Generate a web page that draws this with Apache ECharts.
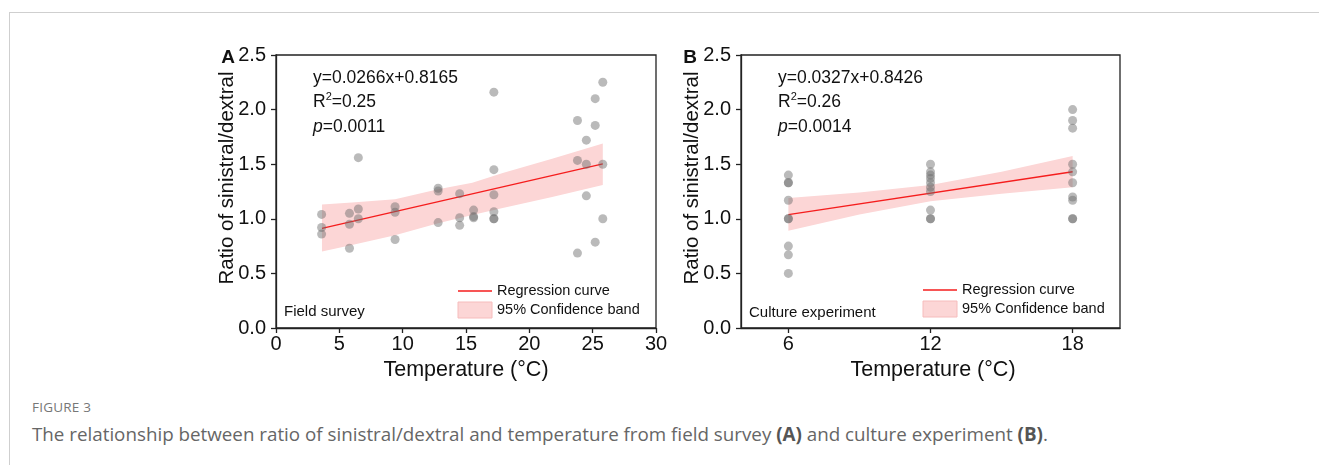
<!DOCTYPE html>
<html>
<head>
<meta charset="utf-8">
<script src="https://cdn.jsdelivr.net/npm/echarts@6/dist/echarts.min.js"></script>
<style>
  html, body { margin: 0; padding: 0; background: #fff; }
  #wrap { position: relative; width: 1319px; height: 465px; overflow: hidden; }
  #frame { position: absolute; left: 9px; top: 12px; right: 0; bottom: -2px;
           border-top: 1px solid #cfcfcf; border-left: 1px solid #cfcfcf; }
  #chart { position: absolute; left: 0; top: 0; width: 1319px; height: 390px; }
  .fig { position: absolute; left: 32px; top: 398px; font: 13.5px "Open Sans", sans-serif; color: #777; letter-spacing: 0.2px; }
  .cap { position: absolute; left: 32px; top: 421px; font: 18.8px "Open Sans", sans-serif; color: #666; white-space: nowrap; }
  .cap b { color: #555; }
</style>
</head>
<body>
<div id="wrap">
  <div id="frame"></div>
  <div id="chart"></div>
  <div class="fig">FIGURE 3</div>
  <div class="cap">The relationship between ratio of sinistral/dextral and temperature from field survey <b>(A)</b> and culture experiment <b>(B)</b>.</div>
</div>
<script>
// field survey (A)
const tempA = [3.6, 3.6, 3.6, 5.8, 5.8, 5.8, 6.5, 6.5, 6.5, 9.4, 9.4, 9.4,
  12.8, 12.8, 12.8, 14.5, 14.5, 14.5, 15.6, 15.6, 15.6,
  17.2, 17.2, 17.2, 17.2, 17.2, 17.2, 23.8, 23.8, 23.8, 24.5, 24.5, 24.5,
  25.2, 25.2, 25.2, 25.8, 25.8, 25.8]
const ratioA = [1.04, 0.92, 0.86, 1.05, 0.95, 0.73, 1.56, 1.09, 1.0, 1.11, 1.06, 0.81,
  1.28, 1.255, 0.965, 1.23, 1.01, 0.94, 1.08, 1.01, 1.02,
  2.16, 1.45, 1.22, 1.065, 1.0, 1.0, 1.9, 1.535, 0.686, 1.72, 1.5, 1.21,
  2.1, 1.855, 0.786, 2.25, 1.5, 1.0]
const fitA_x = [3.63, 25.8]
const fitA_y = [0.913, 1.503]
const bandA_x = [3.63, 6, 9.4, 12.8, 15.5, 17.9, 21.8, 25.8]
const bandA_hi = [1.13, 1.15, 1.18, 1.27, 1.33, 1.42, 1.55, 1.69]
const bandA_lo = [0.70, 0.76, 0.85, 0.96, 1.035, 1.10, 1.20, 1.31]

// culture experiment (B)
const tempB = [6, 6, 6, 6, 6, 6, 6, 6, 6,
  12, 12, 12, 12, 12, 12, 12, 12, 12, 12,
  18, 18, 18, 18, 18, 18, 18, 18, 18, 18]
const ratioB = [1.4, 1.33, 1.33, 1.17, 1.0, 1.0, 0.75, 0.67, 0.5,
  1.5, 1.43, 1.4, 1.37, 1.33, 1.29, 1.25, 1.08, 1.0, 1.0,
  2.0, 1.9, 1.83, 1.5, 1.43, 1.33, 1.2, 1.17, 1.0, 1.0]
const fitB_x = [6, 18]
const fitB_y = [1.039, 1.431]
const bandB_x = [6, 9, 12, 15, 18]
const bandB_hi = [1.19, 1.24, 1.31, 1.43, 1.575]
const bandB_lo = [0.89, 1.04, 1.16, 1.23, 1.29]

const yTicks = [0, 0.5, 1.0, 1.5, 2.0, 2.5]
const xTicksB = [6, 12, 18]

const FONT = '"Liberation Sans", Arial, sans-serif'
const AXIS = '#222'
const PINK = '#fcd6d6'
const RED = '#f51d1d'
const DOT = 'rgba(105,105,105,0.58)'

const chart = echarts.init(document.getElementById('chart'), null, { renderer: 'canvas' })

function bandSeries(idx, xs, hi, lo) {
  const pts = xs.map((x, i) => [x, hi[i], lo[i]])
  return {
    type: 'custom', xAxisIndex: idx, yAxisIndex: idx, silent: true, z: 1,
    data: pts,
    renderItem: (params, api) => {
      if (params.dataIndex !== 0) return null
      const top = pts.map(p => api.coord([p[0], p[1]]))
      const bot = pts.map(p => api.coord([p[0], p[2]])).reverse()
      return { type: 'polygon', shape: { points: top.concat(bot) }, style: { fill: PINK } }
    },
    encode: { x: 0, y: [1, 2] },
  }
}

function lineSeries(idx, xs, ys) {
  return {
    type: 'line', xAxisIndex: idx, yAxisIndex: idx, z: 3, silent: true,
    showSymbol: false, data: xs.map((x, i) => [x, ys[i]]),
    lineStyle: { color: RED, width: 1.3 },
  }
}

function dotSeries(idx, xs, ys) {
  return {
    type: 'scatter', xAxisIndex: idx, yAxisIndex: idx, z: 4,
    symbolSize: 9, data: xs.map((x, i) => [x, ys[i]]),
    itemStyle: { color: DOT },
  }
}

const yAxisBase = {
  type: 'value', min: 0, max: 2.5, interval: 0.5,
  axisLine: { show: true, lineStyle: { color: AXIS, width: 1.3 } },
  axisTick: { show: true, length: 5, lineStyle: { color: AXIS, width: 1.3 } },
  axisLabel: { color: '#111', fontSize: 20, fontFamily: FONT, margin: 10, formatter: v => v.toFixed(1) },
  splitLine: { show: false },
}
const xLabel = { color: '#111', fontSize: 20, fontFamily: FONT, margin: 6 }

const txt = (x, y, text, size, extra) => ({
  type: 'text', x, y, silent: true,
  style: Object.assign({ text, fontSize: size, fontFamily: FONT, fill: '#111', verticalAlign: 'middle' }, extra || {}),
})

function statsText(x, eq, r2, p) {
  return [
    txt(x, 78, eq, 17.5),
    txt(x, 102, '{n|R}{s|2}{n|=' + r2 + '}', 17.5, {
      rich: { n: { fontSize: 17.5, fontFamily: FONT }, s: { fontSize: 11, fontFamily: FONT, padding: [0, 0, 10, 0] } },
    }),
    txt(x, 127, '{i|p}{n|=' + p + '}', 17.5, {
      rich: { n: { fontSize: 17.5, fontFamily: FONT }, i: { fontSize: 17.5, fontFamily: FONT, fontStyle: 'italic' } },
    }),
  ]
}

function legendBox(x, y) {
  return [
    { type: 'line', silent: true, shape: { x1: x, y1: y, x2: x + 34, y2: y }, style: { stroke: RED, lineWidth: 1.3 } },
    txt(x + 39, y, 'Regression curve', 14.5),
    { type: 'rect', silent: true, shape: { x: x, y: y + 11, width: 34, height: 16 }, style: { fill: PINK, stroke: '#f6bcbc', lineWidth: 1 } },
    txt(x + 39, y + 19, '95% Confidence band', 14.5),
  ]
}

const yTitle = (x) => ({
  type: 'text', x, y: 178, rotation: Math.PI / 2, silent: true,
  style: { text: 'Ratio of sinistral/dextral', fontSize: 20.5, fontFamily: FONT, fill: '#111', align: 'center', verticalAlign: 'middle' },
})

const graphics = [
  txt(228, 58, 'A', 19, { fontWeight: 'bold', align: 'center' }),
  txt(690, 58, 'B', 19, { fontWeight: 'bold', align: 'center' }),
  yTitle(227),
  yTitle(692),
  txt(466, 370, 'Temperature (°C)', 21.5, { align: 'center' }),
  txt(933, 370, 'Temperature (°C)', 21.5, { align: 'center' }),
  txt(284, 312, 'Field survey', 15),
  txt(749, 313, 'Culture experiment', 15),
  ...statsText(313, 'y=0.0266x+0.8165', '0.25', '0.0011'),
  ...statsText(778, 'y=0.0327x+0.8426', '0.26', '0.0014'),
  ...legendBox(458, 291),
  ...legendBox(923, 290),
]

chart.setOption({
  animation: false,
  grid: [
    { left: 276, top: 55, width: 380, height: 273, show: true, borderColor: AXIS, borderWidth: 1.3, backgroundColor: 'transparent' },
    { left: 741, top: 55, width: 379, height: 273, show: true, borderColor: AXIS, borderWidth: 1.3, backgroundColor: 'transparent' },
  ],
  xAxis: [
    {
      gridIndex: 0, type: 'value', min: 0, max: 30, interval: 5,
      axisLine: { show: true, onZero: false, lineStyle: { color: AXIS, width: 1.3 } },
      axisTick: { show: true, length: 5, lineStyle: { color: AXIS, width: 1.3 } },
      axisLabel: xLabel, splitLine: { show: false },
    },
    {
      gridIndex: 1, type: 'value', min: 4, max: 20,
      axisLine: { show: true, onZero: false, lineStyle: { color: AXIS, width: 1.3 } },
      axisTick: { show: true, length: 5, customValues: xTicksB, lineStyle: { color: AXIS, width: 1.3 } },
      axisLabel: Object.assign({ customValues: xTicksB }, xLabel), splitLine: { show: false },
    },
  ],
  yAxis: [
    Object.assign({ gridIndex: 0 }, yAxisBase),
    Object.assign({ gridIndex: 1 }, yAxisBase),
  ],
  series: [
    bandSeries(0, bandA_x, bandA_hi, bandA_lo),
    lineSeries(0, fitA_x, fitA_y),
    dotSeries(0, tempA, ratioA),
    bandSeries(1, bandB_x, bandB_hi, bandB_lo),
    lineSeries(1, fitB_x, fitB_y),
    dotSeries(1, tempB, ratioB),
  ],
  graphic: graphics,
})
</script>
</body>
</html>
